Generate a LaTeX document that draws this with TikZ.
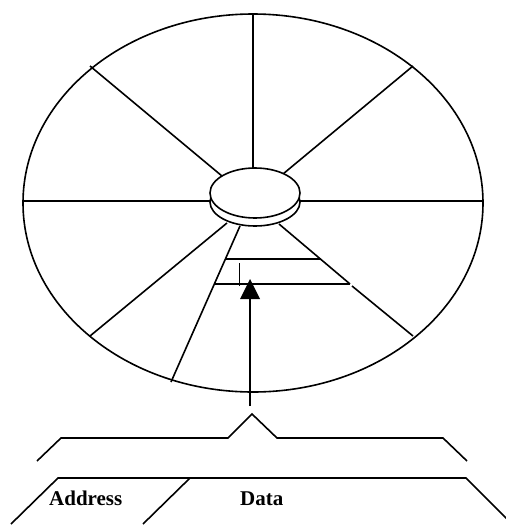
\documentclass[tikz,border=0pt]{standalone}
\usepackage{fontspec}
\setmainfont{Liberation Serif}
\tikzset{
  ln/.style={line width=1.6pt,black,line join=miter},
  hub/.style={ln,fill=white},
  lab/.style={inner sep=0pt,anchor=base west,font=\fontsize{21}{21}\selectfont\bfseries}
}
\begin{document}
\begin{tikzpicture}[x=1pt,y=-1pt]
\useasboundingbox (0,0) rectangle (506,525);
\clip (0,0) rectangle (506,525);
% platter
\draw[ln] (253,203) ellipse [x radius=230,y radius=189];
% spokes
\draw[ln] (253,14) -- (253,170);
\draw[ln] (90,66) -- (222,176);
\draw[ln] (413,66) -- (283,174);
\draw[ln] (23,201) -- (212,201);
\draw[ln] (298,201) -- (483,201);
\draw[ln] (90,336) -- (227,223);
\draw[ln] (240,226) -- (171,382);
\draw[ln] (279,224) -- (350,284);
\draw[ln] (352,286) -- (413,336);
% hub
\draw[hub] (255,202) ellipse [x radius=45,y radius=24];
\draw[hub] (255,193) ellipse [x radius=45,y radius=25];
% sector
\draw[ln] (225,259) -- (321,259);
\draw[ln] (214,284) -- (350,284);
\draw[ln] (239.5,263) -- (239.5,286);
% arrow
\coordinate (tip) at (250,279);
\coordinate (tail) at (250,406);
\draw[ln] (tail) -- (250,297);
\fill[black] (tip) -- (260,299) -- (240,299) -- cycle;
% brace
\draw[ln] (37,461) -- (61,438) -- (228,438) -- (252,414) -- (277,438) -- (443,438) -- (467,461);
% record
\draw[ln] (11,524) -- (58,478) -- (466,478) -- (512,524);
\draw[ln] (143,524) -- (190,478);
\node[lab] (address) at (49,505) {Address};
\node[lab] (data) at (240,505) {Data};
\end{tikzpicture}
\end{document}
